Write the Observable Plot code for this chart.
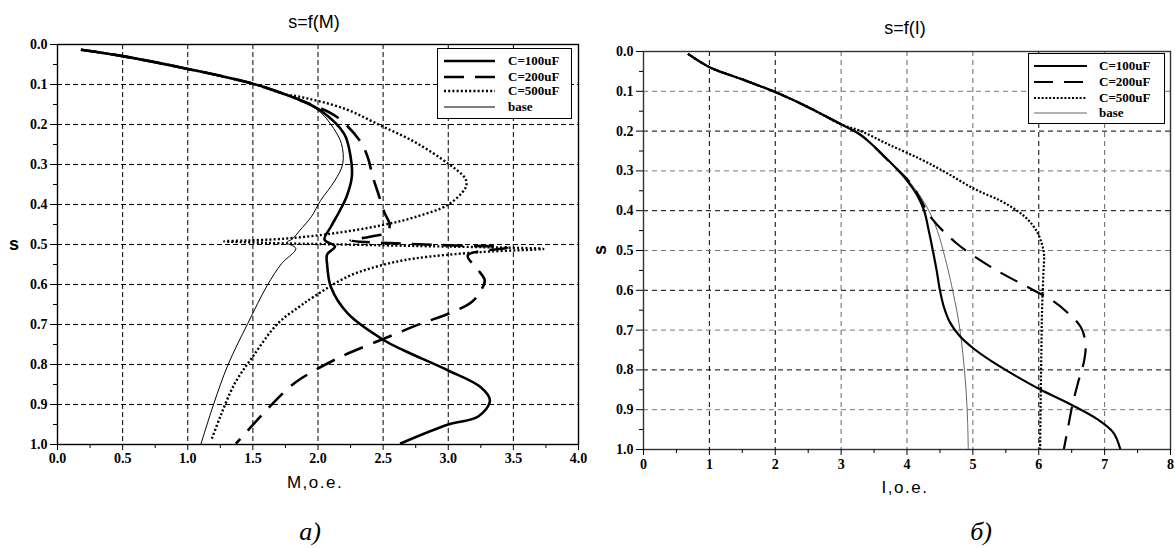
<!DOCTYPE html>
<html><head><meta charset="utf-8">
<script src="https://cdn.jsdelivr.net/npm/d3@7"></script>
<script src="https://cdn.jsdelivr.net/npm/@observablehq/plot@0.6"></script>
<style>
body{margin:0;width:1175px;height:548px;position:relative;background:#fff;overflow:hidden}
.abs{position:absolute;white-space:nowrap}
.c{transform:translate(-50%,-50%)}
.sans{font-family:"Liberation Sans",Arial,sans-serif;color:#000}
.cap{font-family:"Liberation Serif","Times New Roman",serif;font-style:italic;font-size:26px}
.leg{position:absolute;border:1px solid #000;background:#fff;font-family:"Liberation Serif",serif;font-weight:bold;font-size:13px}
.leg div{position:absolute;left:0;height:14px;line-height:14px}
</style></head><body>
<div id="leftPanel" class="abs" style="left:0;top:0"></div>
<div id="rightPanel" class="abs" style="left:590px;top:0"></div>
<script>
// ---------- data: left panel s=f(M)  (pairs [M, s]) ----------
const seriesNames = ["C=100uF", "C=200uF", "C=500uF", "base"];
const commonM = [[0.18,0.013],[0.5,0.029],[1.0,0.061],[1.5,0.098],[1.75,0.125]];
const m100 = [[1.87,0.14],[2.02,0.165],[2.2,0.223],[2.25,0.28],[2.26,0.33],[2.22,0.38],[2.16,0.42],[2.1,0.455],[2.05,0.488],[2.13,0.505],[2.07,0.525],[2.07,0.55],[2.1,0.607],[2.23,0.673],[2.51,0.74],[2.66,0.765],[3.0,0.815],[3.25,0.857],[3.32,0.89],[3.23,0.93],[3.0,0.95],[2.63,0.998]];
const m200 = [[1.87,0.14],[2.14,0.18],[2.32,0.24],[2.38,0.28],[2.42,0.33],[2.46,0.37],[2.51,0.42],[2.55,0.45],[2.53,0.47],[2.41,0.48],[2.25,0.49],[2.6,0.497],[3.0,0.502],[3.45,0.508],[3.15,0.527],[3.22,0.56],[3.28,0.59],[3.25,0.615],[3.18,0.644],[3.0,0.673],[2.79,0.698],[2.51,0.735],[2.18,0.78],[1.87,0.835],[1.77,0.86],[1.59,0.919],[1.37,0.998]];
const m500 = [[1.85,0.13],[2.2,0.16],[2.48,0.2025],[2.75,0.245],[3.0,0.298],[3.12,0.33],[3.14,0.345],[3.13,0.36],[3.0,0.40],[2.74,0.432],[2.48,0.4525],[2.1,0.473],[1.72,0.486],[1.45,0.49],[1.28,0.492],[1.6,0.496],[2.2,0.5],[2.8,0.504],[3.3,0.507],[3.73,0.511],[3.25,0.519],[2.74,0.535],[2.48,0.5525],[2.23,0.58],[1.97,0.63],[1.85,0.657],[1.69,0.698],[1.5,0.78],[1.36,0.848],[1.25,0.93],[1.18,0.99]];
const mBase = [[1.87,0.14],[2.02,0.17],[2.12,0.21],[2.18,0.248],[2.19,0.298],[2.13,0.34],[2.02,0.39],[1.95,0.43],[1.86,0.465],[1.8,0.487],[1.76,0.495],[1.83,0.51],[1.72,0.548],[1.61,0.6025],[1.46,0.698],[1.31,0.8],[1.2,0.898],[1.1,1.0]];
const xTicksM = [0,0.5,1,1.5,2,2.5,3,3.5,4];
const xMinorM = [0.25,0.75,1.25,1.75,2.25,2.75,3.25,3.75];

// ---------- data: right panel s=f(I)  (pairs [I, s]) ----------
const commonI = [[0.675,0.006],[1.01,0.04],[1.5,0.07],[2.0,0.102],[2.5,0.14],[3.0,0.183]];
const i100 = [[3.3,0.21],[3.72,0.274],[4.0,0.324],[4.15,0.36],[4.26,0.40],[4.33,0.45],[4.38,0.49],[4.45,0.55],[4.5,0.6],[4.56,0.642],[4.65,0.68],[4.8,0.715],[5.0,0.745],[5.3,0.78],[5.65,0.815],[6.03,0.85],[6.5,0.888],[6.9,0.925],[7.13,0.957],[7.24,1.0]];
const i200 = [[3.3,0.21],[3.72,0.275],[4.05,0.33],[4.2,0.37],[4.36,0.416],[4.76,0.483],[5.32,0.546],[5.88,0.596],[6.2,0.625],[6.43,0.655],[6.64,0.693],[6.71,0.734],[6.69,0.776],[6.6,0.83],[6.51,0.889],[6.45,0.94],[6.38,1.0]];
const i500 = [[3.3,0.2],[3.7,0.232],[4.2,0.27],[4.6,0.305],[5.02,0.345],[5.42,0.375],[5.67,0.40],[5.85,0.425],[5.98,0.455],[6.05,0.485],[6.08,0.51],[6.07,0.56],[6.05,0.65],[6.04,0.75],[6.03,0.87],[6.02,1.0]];
const iBase = [[3.3,0.21],[3.72,0.275],[4.05,0.33],[4.3,0.39],[4.46,0.45],[4.58,0.52],[4.66,0.575],[4.79,0.684],[4.86,0.78],[4.9,0.86],[4.92,0.93],[4.93,1.0]];
const xTicksI = [0,1,2,3,4,5,6,7,8];
const xMinorI = [0.5,1.5,2.5,3.5,4.5,5.5,6.5,7.5];

const yTicks = [0,0.1,0.2,0.3,0.4,0.5,0.6,0.7,0.8,0.9,1.0];
const yMinor = [0.05,0.15,0.25,0.35,0.45,0.55,0.65,0.75,0.85,0.95];

// ---------- styles per series ----------
function styleL(name){
  return {
    "C=100uF": {stroke:"#000", strokeWidth:2.6},
    "C=200uF": {stroke:"#000", strokeWidth:2.6, strokeDasharray:"20,11"},
    "C=500uF": {stroke:"#000", strokeWidth:2.4, strokeDasharray:"2,2.2"},
    "base": {stroke:"#000", strokeWidth:1}
  }[name];
}
function styleR(name){
  return {
    "C=100uF": {stroke:"#000", strokeWidth:2.2},
    "C=200uF": {stroke:"#000", strokeWidth:2.2, strokeDasharray:"19,11"},
    "C=500uF": {stroke:"#000", strokeWidth:2.2, strokeDasharray:"2,1.8"},
    "base": {stroke:"#666", strokeWidth:1}
  }[name];
}
const fmt1 = d3.format(".1f");
const baseStyle = {background:"transparent", color:"#000"};

function lineMarks(sets, styleFn){
  return sets.map(([name, pts]) => Plot.line(pts, {x: d => d[0], y: d => d[1], curve: "catmull-rom", strokeLinecap:"butt", ...styleFn(name)}));
}
function serifTicks(svg){
  d3.select(svg).selectAll("text")
    .attr("font-family", "Liberation Serif")
    .attr("font-weight", "bold")
    .attr("font-size", 14)
    .style("font-family", "'Liberation Serif', serif")
    .style("font-weight", "bold")
    .style("font-size", "14px")
    .style("fill", "#000");
}

// ---------- left ----------
const leftSets = [
  ["base", commonM.concat(mBase)],
  ["C=500uF", commonM.concat(m500)],
  ["C=200uF", commonM.concat(m200)],
  ["C=100uF", commonM.concat(m100)]
];
const leftPlot = Plot.plot({
  width: 590, height: 500,
  marginLeft: 57, marginTop: 44, marginRight: 12, marginBottom: 56,
  style: baseStyle,
  x: {domain:[0,4]},
  y: {domain:[0,1], reverse:true},
  marks: [
    Plot.gridX(xTicksM.slice(1,-1), {stroke:"#000", strokeOpacity:1, strokeDasharray:"5,3"}),
    Plot.gridY(yTicks.slice(1,-1), {stroke:"#000", strokeOpacity:1, strokeDasharray:"5,3"}),
    ...lineMarks(leftSets, styleL),
    Plot.frame({stroke:"#000", strokeWidth:1.4}),
    Plot.axisX(xTicksM, {tickSize:6, tickPadding:3, tickFormat: fmt1, label:null}),
    Plot.axisX(xMinorM, {tickSize:4, tickFormat: () => "", label:null}),
    Plot.axisY(yTicks, {tickSize:7, tickPadding:3, tickFormat: fmt1, label:null}),
    Plot.axisY(yMinor, {tickSize:4, tickFormat: () => "", label:null})
  ]
});
serifTicks(leftPlot);
document.getElementById("leftPanel").appendChild(leftPlot);

// ---------- right ----------
const rightSets = [
  ["base", commonI.concat(iBase)],
  ["C=500uF", commonI.concat(i500)],
  ["C=200uF", commonI.concat(i200)],
  ["C=100uF", commonI.concat(i100)]
];
const gridYBlack = [0.2,0.4,0.6,0.8];
const gridYGray = [0.1,0.3,0.5,0.7,0.9];
const gridXBlack = [1,2,6];
const gridXGray = [3,4,5,7];
const rightPlot = Plot.plot({
  width: 585, height: 500,
  marginLeft: 53, marginTop: 51, marginRight: 5, marginBottom: 51,
  style: baseStyle,
  x: {domain:[0,8]},
  y: {domain:[0,1], reverse:true},
  marks: [
    Plot.gridX(gridXBlack, {stroke:"#000", strokeOpacity:1, strokeDasharray:"5,4"}),
    Plot.gridX(gridXGray, {stroke:"#666", strokeOpacity:1, strokeDasharray:"5,4"}),
    Plot.gridY(gridYBlack, {stroke:"#000", strokeOpacity:1, strokeDasharray:"5,4"}),
    Plot.gridY(gridYGray, {stroke:"#777", strokeOpacity:1, strokeDasharray:"5,4"}),
    ...lineMarks(rightSets, styleR),
    Plot.frame({stroke:"#333", strokeWidth:1.4}),
    Plot.axisX(xTicksI, {tickSize:6, tickPadding:4, tickFormat: d3.format("d"), label:null}),
    Plot.axisX(xMinorI, {tickSize:4, tickFormat: () => "", label:null}),
    Plot.axisY(yTicks, {tickSize:7, tickPadding:3, tickFormat: fmt1, label:null}),
    Plot.axisY(yMinor, {tickSize:4, tickFormat: () => "", label:null})
  ]
});
serifTicks(rightPlot);
document.getElementById("rightPanel").appendChild(rightPlot);

// ---------- legends ----------
function legend(x0, y0, w, h, lineX0, lineX1, textX, rowsY, styleFn){
  const box = document.createElement("div");
  box.className = "leg";
  box.style.left = x0 + "px"; box.style.top = y0 + "px";
  box.style.width = w + "px"; box.style.height = h + "px";
  seriesNames.forEach((name, i) => {
    const s = styleFn(name);
    const svg = d3.create("svg").attr("width", w).attr("height", 10)
      .style("position","absolute").style("left","0px").style("top",(rowsY[i]-5)+"px");
    svg.append("line").attr("x1", lineX0).attr("x2", lineX1).attr("y1",5).attr("y2",5)
      .attr("stroke", s.stroke).attr("stroke-width", s.strokeWidth)
      .attr("stroke-dasharray", s.strokeDasharray || null);
    box.appendChild(svg.node());
    const t = document.createElement("div");
    t.textContent = name;
    t.style.left = textX + "px"; t.style.top = (rowsY[i]-7) + "px";
    box.appendChild(t);
  });
  document.body.appendChild(box);
}
legend(437, 48, 133, 69, 6, 57, 70, [12, 28, 42, 58], styleL);
legend(1028, 53, 135, 69, 5, 58, 70, [12, 28, 44, 59], styleR);

// ---------- texts ----------
function txt(str, x, y, css){
  const d = document.createElement("div");
  d.className = "abs c sans";
  d.textContent = str;
  d.style.left = x + "px"; d.style.top = y + "px";
  Object.assign(d.style, css || {});
  document.body.appendChild(d);
  return d;
}
txt("s=f(M)", 314, 22, {fontSize:"18px"});
txt("s=f(I)", 905, 28, {fontSize:"18px"});
txt("s", 14, 244, {fontSize:"18px", fontWeight:"bold"});
txt("s", 600, 250, {fontSize:"18px", fontWeight:"bold", transform:"translate(-50%,-50%) rotate(-90deg)"});
txt("M,o.e.", 315, 483, {fontSize:"17px", letterSpacing:"1.5px"});
txt("I,o.e.", 905, 488, {fontSize:"17px", letterSpacing:"1.5px"});
const c1 = txt("а)", 310, 532, {}); c1.className = "abs c cap";
const c2 = txt("б)", 981, 532, {}); c2.className = "abs c cap";
</script>
</body></html>
